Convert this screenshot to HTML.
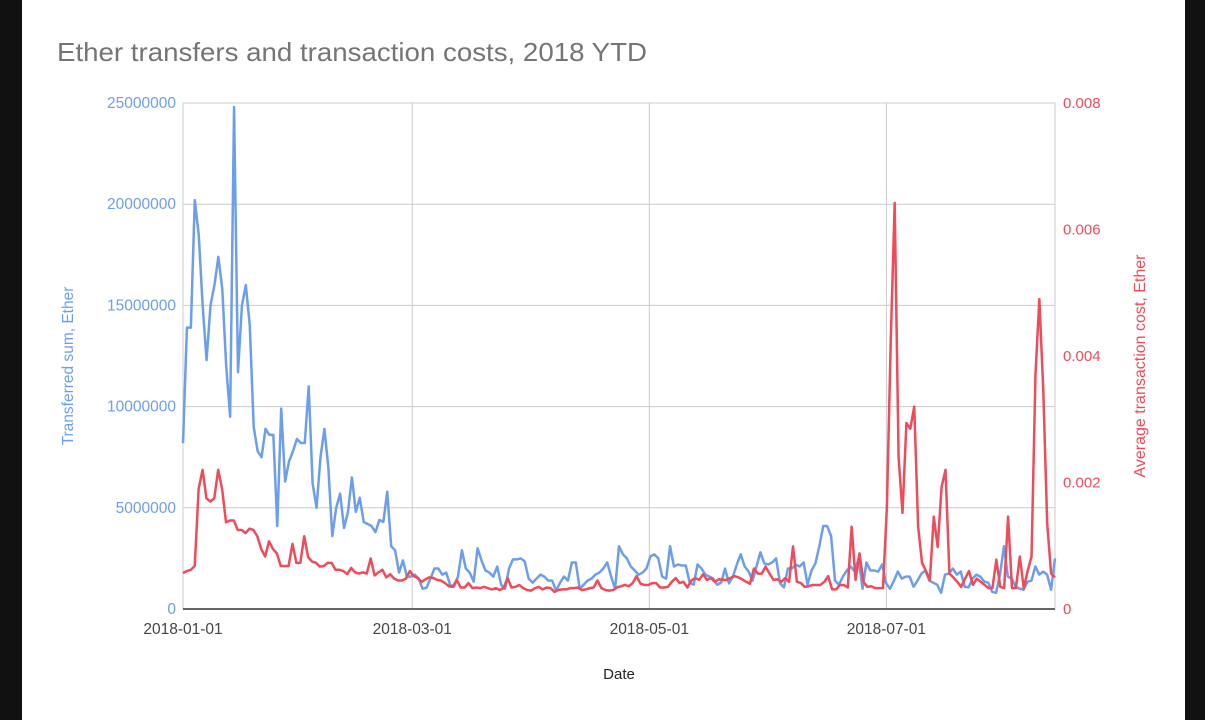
<!DOCTYPE html>
<html><head><meta charset="utf-8"><style>
body{margin:0;background:#111;}
#wrap{position:absolute;left:22px;top:0;width:1163px;height:720px;background:#fff;}
svg{position:absolute;left:0;top:0;font-family:"Liberation Sans",sans-serif;}
</style></head><body>
<div id="wrap"></div>
<svg id="chart" width="1205" height="720">
<text x="57" y="61" font-size="26" textLength="590" lengthAdjust="spacingAndGlyphs" fill="#757575">Ether transfers and transaction costs, 2018 YTD</text>
<text x="619" y="679" font-size="15" fill="#222" text-anchor="middle">Date</text>
<text transform="translate(73,366) rotate(-90)" font-size="15.5" fill="#6d9eeb" text-anchor="middle">Transferred sum, Ether</text>
<text transform="translate(1145,366) rotate(-90)" font-size="16" fill="#ee4b5b" text-anchor="middle">Average transaction cost, Ether</text>
</svg>
<script>
const transferred = [8.2,13.9,13.9,20.2,18.5,15,12.3,15,16,17.4,15.8,12,9.5,24.8,11.7,15,16,14,9.0,7.8,7.5,8.9,8.6,8.6,4.1,9.9,6.3,7.3,7.8,8.4,8.2,8.2,11.0,6.2,5.0,7.5,8.9,7.0,3.6,5.0,5.7,4.0,4.8,6.5,4.8,5.5,4.3,4.2,4.1,3.8,4.4,4.3,5.8,3.1,2.9,1.8,2.4,1.6,1.6,
1.7,1.5,1.0,1.05,1.5,2.0,2.0,1.7,1.8,1.2,1.1,1.6,2.9,2.0,1.8,1.35,3.0,2.4,1.9,1.8,1.6,2.1,1.2,1.0,2.0,2.45,2.45,2.5,2.35,1.5,1.3,1.5,1.7,1.6,1.4,1.4,0.9,1.3,1.6,1.4,2.3,2.3,1.0,1.2,1.4,1.5,1.7,1.8,2.0,2.3,1.6,1.0,3.1,2.7,2.5,2.1,1.9,1.7,1.8,2.0,2.6,2.7,2.5,1.6,1.5,3.1,2.1,2.2,2.15,2.15,1.3,1.2,2.2,2.0,1.7,1.6,1.5,1.2,1.3,2.0,
1.27,1.6,2.2,2.7,2.1,1.85,1.4,2.1,2.8,2.25,2.2,2.3,2.5,1.27,1.07,2.0,2.0,2.2,2.1,2.3,1.2,1.9,2.25,3.1,4.1,4.1,3.6,1.4,1.2,1.6,1.9,2.1,1.85,2.5,1.0,2.3,1.9,1.9,1.85,2.2,1.27,1.0,1.4,1.85,1.5,1.6,1.6,1.1,1.4,1.75,1.9,1.4,1.3,1.2,0.8,1.7,1.75,2.0,1.7,1.85,1.1,1.07,1.5,1.7,1.6,1.35,1.3,0.85,0.8,1.7,3.1,1.6,1.5,1.1,1.0,0.95,1.35,1.4,2.1,1.7,1.85,1.7,0.95,2.5];
const txCost = [0.57,0.6,0.62,0.68,1.9,2.2,1.75,1.7,1.75,2.2,1.9,1.37,1.4,1.4,1.25,1.25,1.2,1.27,1.25,1.15,0.95,0.83,1.07,0.95,0.88,0.68,0.68,0.68,1.03,0.73,0.73,1.15,0.82,0.75,0.73,0.67,0.68,0.73,0.73,0.62,0.62,0.6,0.55,0.65,0.58,0.56,0.58,0.56,0.8,0.53,0.58,0.62,0.5,0.55,0.48,0.45,0.45,0.48,0.6,
0.52,0.49,0.43,0.47,0.50,0.49,0.46,0.45,0.41,0.36,0.35,0.46,0.34,0.34,0.41,0.33,0.34,0.33,0.35,0.33,0.31,0.33,0.30,0.33,0.49,0.34,0.35,0.38,0.33,0.30,0.29,0.33,0.35,0.31,0.34,0.33,0.27,0.30,0.31,0.31,0.33,0.33,0.34,0.30,0.31,0.33,0.34,0.45,0.33,0.30,0.29,0.30,0.34,0.36,0.38,0.36,0.41,0.52,0.40,0.38,0.38,0.41,0.41,0.34,0.34,0.35,0.43,0.49,0.41,0.43,0.34,0.45,0.49,0.46,0.55,0.46,0.49,0.43,0.47,0.46,
0.46,0.49,0.52,0.5,0.47,0.43,0.4,0.64,0.56,0.56,0.67,0.56,0.46,0.47,0.43,0.49,0.43,0.99,0.43,0.41,0.35,0.36,0.38,0.38,0.38,0.43,0.52,0.31,0.31,0.38,0.38,0.34,1.3,0.46,0.88,0.43,0.35,0.36,0.33,0.33,0.33,
1.6,4.25,6.42,2.4,1.52,2.94,2.85,3.2,1.3,0.73,0.6,0.46,1.46,0.98,1.93,2.2,0.56,0.5,0.43,0.35,0.48,0.6,0.38,0.48,0.43,0.38,0.33,0.33,0.78,0.35,0.33,1.46,0.33,0.33,0.83,0.33,0.6,0.83,3.7,4.9,3.46,1.36,0.56,0.5];
const leftTicks = ["0","5000000","10000000","15000000","20000000","25000000"];
const leftTickValues = [0,5,10,15,20,25];
const rightTicks = ["0","0.002","0.004","0.006","0.008"];
const rightTickValues = [0,2,4,6,8];
const dateTicks = ["2018-01-01","2018-03-01","2018-05-01","2018-07-01"];
const dateTickDays = [0,59,120,181];

const NS="http://www.w3.org/2000/svg";
const svg=document.getElementById('chart');
const X0=183,X1=1055,Y0=609,Y1=103,PPD=3.886;
const x=d=>X0+d*PPD;
const xi=(i,n)=>X0+i*(X1-X0)/(n-1);
const yL=v=>Y0-(v/25)*(Y0-Y1);
const yR=v=>Y0-(v/8)*(Y0-Y1);
function mk(tag,attrs){const e=document.createElementNS(NS,tag);for(const k in attrs)e.setAttribute(k,attrs[k]);svg.appendChild(e);return e;}
leftTickValues.forEach((v,i)=>{
  if(v>0){const g=mk('line',{x1:X0,x2:X1,y1:yL(v),y2:yL(v),stroke:'#cccccc','stroke-width':1});
  
  }
  const t=mk('text',{x:176,y:yL(v)+5,'font-size':15.5,fill:'#6d9eeb','text-anchor':'end'});
  t.textContent=leftTicks[i];
  
  
});
rightTickValues.forEach((v,i)=>{
  const t=mk('text',{x:1063,y:yR(v)+5,'font-size':15,fill:'#ee4b5b'});
  t.textContent=rightTicks[i];
  
  
});
dateTickDays.forEach((d,i)=>{
  const g=mk('line',{x1:x(d),x2:x(d),y1:Y1,y2:Y0,stroke:'#cccccc','stroke-width':1});
  
  
  const t=mk('text',{x:x(d),y:634,'font-size':15.5,fill:'#444','text-anchor':'middle'});
  t.textContent=dateTicks[i];
  
  
});
const rb=mk('line',{x1:X1,x2:X1,y1:Y1,y2:Y0,stroke:'#cccccc','stroke-width':1});


const base=mk('line',{x1:X0,x2:X1,y1:Y0,y2:Y0,stroke:'#333','stroke-width':1.5});


const bp=mk('polyline',{points:transferred.map((v,i)=>xi(i,transferred.length)+','+yL(v)).join(' '),fill:'none',stroke:'#6d9eeb','stroke-width':2.5,'stroke-linejoin':'round'});


const rp=mk('polyline',{points:txCost.map((v,i)=>xi(i,txCost.length)+','+yR(v)).join(' '),fill:'none',stroke:'#ee4b5b','stroke-width':2.5,'stroke-linejoin':'round'});


</script>
</body></html>
